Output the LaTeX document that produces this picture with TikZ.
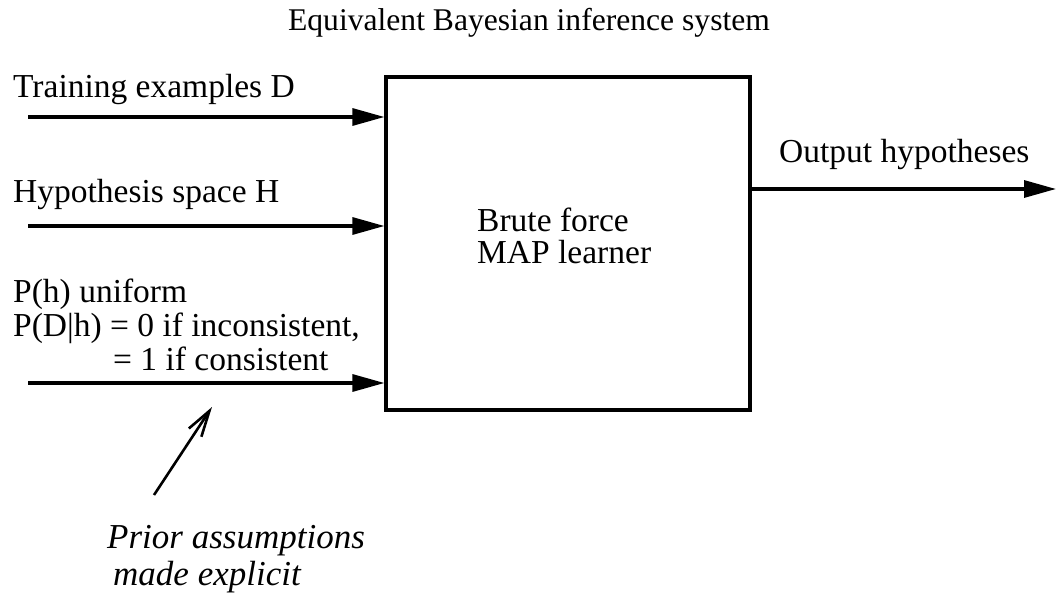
\documentclass[tikz,border=0pt]{standalone}
\usepackage{fontspec}
\setmainfont{Liberation Serif}
\usetikzlibrary{arrows.meta}
\tikzset{
  lbl/.style={anchor=base west, inner sep=0pt, font=\fontsize{33.5}{38}\selectfont},
  inarrow/.style={line width=3.2pt, -{Triangle[length=32pt,width=17pt]}},
  boxstyle/.style={draw, line width=3.2pt, inner sep=0pt, minimum width=364pt, minimum height=333pt},
  hintarrow/.style={line width=2.6pt, -{Straight Barb[length=26pt,width=15pt,line width=2.6pt]}}
}
\begin{document}
\begin{tikzpicture}[x=1pt,y=-1pt]
\useasboundingbox (0,0) rectangle (1056,596);
% title
\node[anchor=base, inner sep=0pt, font=\fontsize{31.6}{36}\selectfont] (title) at (529,31) {Equivalent Bayesian inference system};
% box
\node[boxstyle] (box) at (568,243.5) {};
\node[lbl] (brute) at (477,231) {Brute force};
\node[lbl] (map) at (477,263) {MAP learner};
% input labels
\node[lbl] (train) at (13,98) {Training examples D};
\node[lbl] (hyp) at (13,202) {Hypothesis space H};
\node[lbl] (ph) at (13,302) {P(h) uniform};
\node[lbl] (pdh) at (13,336) {P(D|h) = 0 if inconsistent,};
\node[lbl] (cons) at (113,370) {= 1 if consistent};
% input arrows
\coordinate (s1) at (28,117);
\coordinate (s2) at (28,226);
\coordinate (s3) at (28,383);
\draw[inarrow] (s1) -- (s1 -| box.west);
\draw[inarrow] (s2) -- (s2 -| box.west);
\draw[inarrow] (s3) -- (s3 -| box.west);
% output
\coordinate (o1) at (1056,189);
\draw[inarrow] (box.east |- o1) -- (o1);
\node[lbl] (out) at (779,163) {Output hypotheses};
% prior assumptions
\coordinate (h1) at (154,495);
\coordinate (h2) at (212,407);
\draw[hintarrow] (h1) -- (h2);
\node[lbl, font=\fontsize{35}{40}\selectfont\itshape] (prior) at (107,548) {Prior assumptions};
\node[lbl, font=\fontsize{35}{40}\selectfont\itshape] (made) at (113,585) {made explicit};
\end{tikzpicture}
\end{document}
